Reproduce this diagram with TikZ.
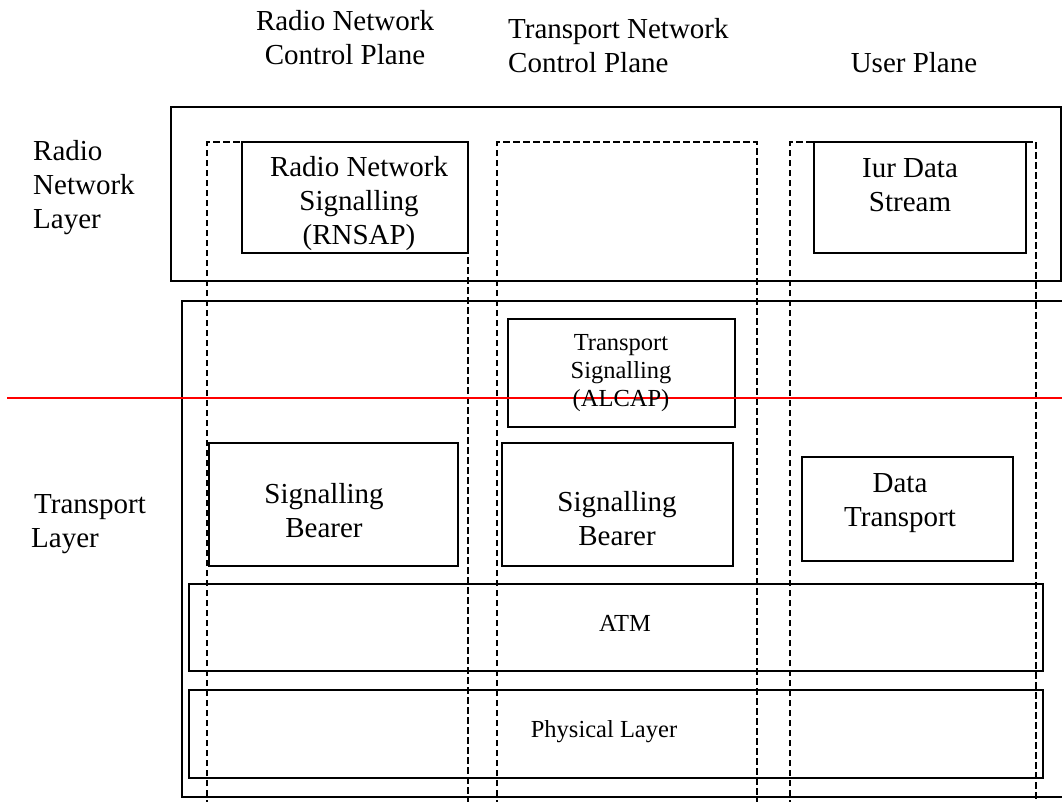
\documentclass[tikz,border=0pt]{standalone}
\usepackage{fontspec}
\setmainfont{Liberation Serif}
\begin{document}
\begin{tikzpicture}[x=1pt,y=-1pt,
  solidbox/.style={draw=black, line width=1.6pt},
  dashcol/.style={draw=black, line width=1.5pt, dash pattern=on 6.5pt off 3.5pt},
  bigtxt/.style={inner sep=0pt, font=\fontsize{29}{34}\selectfont, align=center},
  leftxt/.style={inner sep=0pt, font=\fontsize{29}{34}\selectfont, align=left, anchor=west},
  smalltxt/.style={inner sep=0pt, font=\fontsize{24.5}{28}\selectfont, align=center}]
\useasboundingbox (0,0) rectangle (1062,801);
\fill[white] (0,0) rectangle (1062,801);

% plane columns (dashed, open at the bottom)
\draw[dashcol] (207,806) -- (207,142) -- (468,142) -- (468,806);
\draw[dashcol] (497,806) -- (497,142) -- (757,142) -- (757,806);
\draw[dashcol] (790,806) -- (790,142) -- (1036,142) -- (1036,806);

% layer frames
\draw[solidbox] (171,107) rectangle (1061,281);
\draw[solidbox] (1066,301) -- (182,301) -- (182,797) -- (1066,797);

% inner boxes
\draw[solidbox] (242,142) rectangle (468,253);
\draw[solidbox] (814,142) rectangle (1026,253);
\draw[solidbox] (508,319) rectangle (735,427);
\draw[solidbox] (209,443) rectangle (458,566);
\draw[solidbox] (502,443) rectangle (733,566);
\draw[solidbox] (802,457) rectangle (1013,561);
\draw[solidbox] (189,584) rectangle (1043,671);
\draw[solidbox] (189,690) rectangle (1043,778);

% red separation line
\coordinate (redL) at (7,398);
\coordinate (redR) at (1066,398);
\draw[red, line width=1.4pt] (redL) -- (redR);

% column headings
\node[bigtxt] (hRN) at (345,38) {Radio Network\\Control Plane};
\node[bigtxt, align=left, anchor=west] (hTN) at (508,46) {Transport Network\\Control Plane};
\node[bigtxt] (hUP) at (914,63) {User Plane};

% layer labels
\node[leftxt] (lRNL) at (33,188) {Radio\\Network\\Layer};
\node[leftxt] (lTL) at (31,524) {\hspace{3pt}Transport\\Layer};

% box texts
\node[bigtxt] (tRNSAP) at (359,203.5) {Radio Network\\Signalling\\(RNSAP)};
\node[bigtxt] (tIur) at (910,185) {Iur Data\\Stream};
\node[smalltxt] (tALCAP) at (621,373) {Transport\\Signalling\\(ALCAP)};
\node[bigtxt] (tSB1) at (324,510.5) {Signalling\\Bearer};
\node[bigtxt] (tSB2) at (617,519) {Signalling\\Bearer};
\node[bigtxt] (tDT) at (900,503) {Data\\Transport};
\node[smalltxt] (tATM) at (625,623) {ATM};
\node[smalltxt] (tPHY) at (604,732) {Physical Layer};
\end{tikzpicture}
\end{document}
